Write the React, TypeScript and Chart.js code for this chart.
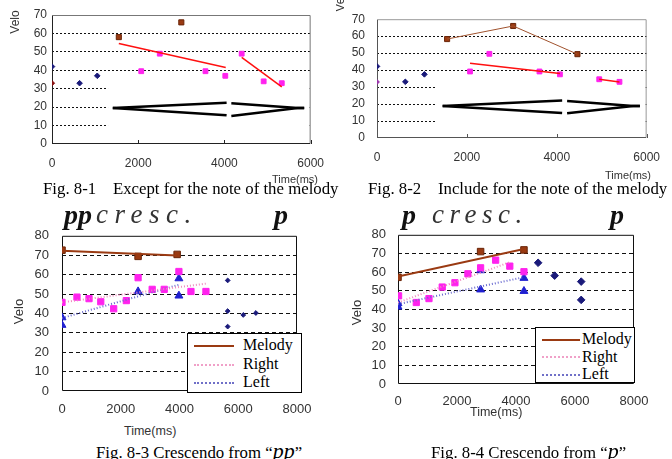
import React, { useEffect, useRef } from "react";
import { Chart, registerables } from "chart.js";
Chart.register(...registerables);

// ---------- tick labels ----------
const timeTicksTop = [0, 2000, 4000, 6000];
const veloTicksTop = [0, 10, 20, 30, 40, 50, 60, 70];
const timeTicksBottom = [0, 2000, 4000, 6000, 8000];
const veloTicksBottom = [0, 10, 20, 30, 40, 50, 60, 70, 80];

// ---------- Fig. 8-1 ----------
const fig1MelodyTime = [1550, 3000];
const fig1MelodyVelo = [58, 66];
const fig1StartTime = [0];
const fig1StartVelo = [33];
const fig1LeftTime = [0, 640, 1050];
const fig1LeftVelo = [42, 33, 37];
const fig1RightTime = [2070, 2500, 3560, 4020, 4400, 4910, 5330];
const fig1RightVelo = [39.5, 49, 39.5, 37, 49, 34, 33];
const fig1TrendATime = [1550, 4030];
const fig1TrendAVelo = [54.5, 41.5];
const fig1TrendBTime = [4400, 5330];
const fig1TrendBVelo = [47, 31];
const fig1CrescTime = [1410, 4050];
const fig1CrescUpper = [19.5, 22.4];
const fig1CrescLower = [19.5, 15.6];
const fig1DecrescTime = [4160, 5700, 5850];
const fig1DecrescUpper = [22.1, 19.5, 19.5];
const fig1DecrescLower = [15.2, 19.5, 19.5];

// ---------- Fig. 8-2 ----------
const fig2MelodyTime = [1560, 3030, 4460];
const fig2MelodyVelo = [58.3, 66, 49.4];
const fig2StartTime = [0];
const fig2StartVelo = [33];
const fig2LeftTime = [0, 630, 1055];
const fig2LeftVelo = [42.2, 33.1, 37.5];
const fig2RightTime = [2070, 2500, 3615, 4070, 4945, 5395];
const fig2RightVelo = [39.2, 49.6, 39.2, 37.5, 34.6, 33.1];
const fig2TrendATime = [2070, 4070];
const fig2TrendAVelo = [44, 38];
const fig2TrendBTime = [4945, 5395];
const fig2TrendBVelo = [34.6, 33];
const fig2CrescTime = [1460, 4120];
const fig2CrescUpper = [18.9, 22.1];
const fig2CrescLower = [18.9, 14.8];
const fig2DecrescTime = [4230, 5700, 5850];
const fig2DecrescUpper = [21.8, 18.9, 18.9];
const fig2DecrescLower = [14.6, 18.9, 18.9];

// ---------- Fig. 8-3 ----------
const fig3MelodyTime = [0, 2590, 3920];
const fig3MelodyVelo = [72.6, 69.4, 70.4];
const fig3MelodyTrendTime = [0, 3920];
const fig3MelodyTrendVelo = [72.3, 69.9];
const fig3RightTime = [0, 510, 920, 1320, 1760, 2190, 2590, 3070, 3480, 3980, 4390, 4900];
const fig3RightVelo = [45.7, 48.4, 47.6, 46, 42.4, 46.6, 58.4, 52.4, 52.4, 61.6, 51.3, 51.3];
const fig3RightTrendTime = [0, 4920];
const fig3RightTrendVelo = [45.7, 55.4];
const fig3LeftTime = [0, 0, 2590, 3980, 3980];
const fig3LeftVelo = [37.9, 34, 51.3, 58, 49.1];
const fig3LeftTrendTime = [0, 4010];
const fig3LeftTrendVelo = [37.6, 54.9];
const fig3OtherTime = [5640, 5640, 5640, 6170, 6600];
const fig3OtherVelo = [57, 41.2, 33.2, 39.2, 40.2];

// ---------- Fig. 8-4 ----------
const fig4MelodyTime = [0, 2800, 4270];
const fig4MelodyVelo = [57.2, 71, 71.9];
const fig4MelodyTrendTime = [0, 4270];
const fig4MelodyTrendVelo = [57.6, 72.4];
const fig4RightTime = [20, 620, 1050, 1500, 1930, 2370, 2800, 3310, 3790, 4270];
const fig4RightVelo = [47.3, 43.7, 45.8, 52, 54.3, 59.1, 62.3, 66.4, 63.2, 60.2];
const fig4RightTrendTime = [0, 3790];
const fig4RightTrendVelo = [43.7, 65.3];
const fig4LeftTime = [0, 0, 2800, 2800, 4270, 4270];
const fig4LeftVelo = [43.2, 41.4, 60.9, 50.6, 56.8, 49.8];
const fig4LeftTrendTime = [0, 4270];
const fig4LeftTrendVelo = [42.8, 57.3];
const fig4OtherTime = [4750, 5310, 6210, 6210];
const fig4OtherVelo = [65, 58.1, 54.9, 45.1];

const legendLabels = ["Melody", "Right", "Left"];

const pts = (xs: number[], ys: number[]) => xs.map((x, i) => ({ x, y: ys[i] }));

const SANS = "'Liberation Sans', Arial, sans-serif";
const SERIF = "'Liberation Serif', 'Times New Roman', serif";

const BROWN = "#9a3a12";
const BROWN_EDGE = "#6a2508";
const MAGENTA = "#ff22ee";
const NAVY = "#1a1a7a";
const BLUE = "#2020d0";

function scatter(data: any[], color: string, style: string, r: number, edge?: string) {
  return {
    data,
    showLine: false,
    pointStyle: style,
    pointRadius: r,
    pointBackgroundColor: color,
    pointBorderColor: edge || color,
    pointBorderWidth: 1,
  };
}
function line(data: any[], color: string, width: number, dash?: number[]) {
  return {
    data,
    showLine: true,
    pointRadius: 0,
    borderColor: color,
    borderWidth: width,
    borderDash: dash || [],
    fill: false,
    tension: 0,
  };
}

const framePlugin = {
  id: "frame",
  beforeDatasetsDraw(chart: any, _args: any, opts: any) {
    const { ctx, chartArea } = chart;
    const { left, right, top, bottom } = chartArea;
    const xs = chart.scales.x;
    const ys = chart.scales.y;
    ctx.save();
    if (opts.maskFrom != null) {
      ctx.fillStyle = "#fff";
      const mx = xs.getPixelForValue(opts.maskFrom);
      const my = ys.getPixelForValue(opts.maskTop);
      ctx.fillRect(mx, my, right - mx - 1, bottom - my - 1);
    }
    ctx.lineWidth = 1;
    ctx.strokeStyle = opts.sideColor;
    ctx.beginPath();
    ctx.moveTo(left + 0.5, top + 0.5);
    ctx.lineTo(right - 0.5, top + 0.5);
    ctx.lineTo(right - 0.5, bottom - 0.5);
    ctx.stroke();
    ctx.strokeStyle = opts.axisColor;
    ctx.beginPath();
    ctx.moveTo(left + 0.5, top + 0.5);
    ctx.lineTo(left + 0.5, bottom - 0.5);
    ctx.lineTo(right - 0.5, bottom - 0.5);
    ctx.stroke();
    if (opts.innerTicks) {
      ctx.beginPath();
      xs.ticks.forEach((t: any) => {
        const px = Math.round(xs.getPixelForValue(t.value)) + 0.5;
        ctx.moveTo(px, bottom);
        ctx.lineTo(px, bottom - 4);
      });
      ctx.stroke();
    }
    ctx.restore();
  },
};

type Spec = {
  datasets: any[];
  xTicks: number[];
  yTicks: number[];
  yWidth: number;
  xHeight: number;
  padding: { top: number; right: number; left: number; bottom: number };
  yPad: number;
  xPad: number;
  fontSize: number;
  dash: number[];
  sideColor: string;
  axisColor: string;
  innerTicks: boolean;
  maskFrom?: number;
  maskTop?: number;
};

function ChartBox({ spec, left, top, width, height }: { spec: Spec; left: number; top: number; width: number; height: number }) {
  const ref = useRef<HTMLCanvasElement>(null);
  useEffect(() => {
    if (!ref.current) return;
    const font = { family: SANS, size: spec.fontSize };
    const xMax = spec.xTicks[spec.xTicks.length - 1];
    const yMax = spec.yTicks[spec.yTicks.length - 1];
    const chart = new Chart(ref.current, {
      type: "scatter",
      data: { datasets: spec.datasets },
      plugins: [framePlugin],
      options: {
        responsive: false,
        animation: false,
        events: [],
        layout: { padding: spec.padding },
        plugins: {
          legend: { display: false },
          tooltip: { enabled: false },
          frame: {
            sideColor: spec.sideColor,
            axisColor: spec.axisColor,
            innerTicks: spec.innerTicks,
            maskFrom: spec.maskFrom,
            maskTop: spec.maskTop,
          },
        } as any,
        scales: {
          x: {
            type: "linear",
            min: 0,
            max: xMax,
            afterBuildTicks: (s: any) => {
              s.ticks = spec.xTicks.map((v) => ({ value: v }));
            },
            ticks: {
              autoSkip: false,
              padding: spec.xPad,
              color: "#333",
              font,
              maxRotation: 0,
              callback: (v: any) => String(v),
            },
            grid: { display: false, drawTicks: false },
            border: { display: false },
            afterFit: (s: any) => {
              s.height = spec.xHeight;
            },
          },
          y: {
            min: 0,
            max: yMax,
            afterBuildTicks: (s: any) => {
              s.ticks = spec.yTicks.map((v) => ({ value: v }));
            },
            ticks: {
              autoSkip: false,
              padding: spec.yPad,
              color: "#333",
              font,
              callback: (v: any) => String(v),
            },
            grid: {
              drawTicks: false,
              lineWidth: 1,
              color: (c: any) =>
                c.tick && (c.tick.value === 0 || c.tick.value === yMax) ? "rgba(0,0,0,0)" : "#111",
            },
            border: { display: false, dash: spec.dash },
            afterFit: (s: any) => {
              s.width = spec.yWidth;
            },
          },
        },
      } as any,
    });
    return () => chart.destroy();
  }, []);
  return (
    <canvas
      ref={ref}
      width={width}
      height={height}
      style={{ position: "absolute", left, top, width, height }}
    />
  );
}

function T({ x, y, children, style }: { x: number; y: number; children: any; style?: any }) {
  return (
    <div style={{ position: "absolute", left: x, top: y, whiteSpace: "pre", lineHeight: 1, ...style }}>
      {children}
    </div>
  );
}

function VLabel({ cx, cy, text, size }: { cx: number; cy: number; text: string; size: number }) {
  return (
    <div
      style={{
        position: "absolute",
        left: cx - size * 1.5,
        top: cy - size / 2,
        width: size * 3,
        textAlign: "center",
        fontFamily: SANS,
        fontSize: size,
        lineHeight: 1,
        color: "#333",
        transform: "rotate(-90deg)",
      }}
    >
      {text}
    </div>
  );
}

function Legend({ x, y, w, h, size, rowGap, sampleW, textX }: any) {
  const samples = [
    { borderTop: `2px solid ${BROWN}` },
    { borderTop: `2px dotted #f0a0c8` },
    { borderTop: `2px dotted #7070c8` },
  ];
  return (
    <div
      style={{
        position: "absolute",
        left: x,
        top: y,
        width: w,
        height: h,
        border: "1px solid #000",
        background: "#fff",
        boxSizing: "border-box",
      }}
    >
      {legendLabels.map((lab, i) => (
        <div key={lab} style={{ position: "absolute", left: 0, top: 2 + i * rowGap, height: rowGap, width: w }}>
          <div style={{ position: "absolute", left: 6, top: rowGap / 2, width: sampleW, ...samples[i] }} />
          <div
            style={{
              position: "absolute",
              left: textX,
              top: 0,
              fontFamily: SERIF,
              fontSize: size,
              lineHeight: `${rowGap}px`,
              color: "#000",
            }}
          >
            {lab}
          </div>
        </div>
      ))}
    </div>
  );
}

const hairpin = (xs: number[], ys: number[]) => line(pts(xs, ys), "#000", 2.5);

const spec1: Spec = {
  datasets: [
    hairpin(fig1CrescTime, fig1CrescUpper),
    hairpin(fig1CrescTime, fig1CrescLower),
    hairpin(fig1DecrescTime, fig1DecrescUpper),
    hairpin(fig1DecrescTime, fig1DecrescLower),
    line(pts(fig1TrendATime, fig1TrendAVelo), "#ff1010", 1.5),
    line(pts(fig1TrendBTime, fig1TrendBVelo), "#ff1010", 1.5),
    scatter(pts(fig1MelodyTime, fig1MelodyVelo), BROWN, "rect", 3.6, BROWN_EDGE),
    scatter(pts(fig1RightTime, fig1RightVelo), MAGENTA, "rect", 3.4),
    scatter(pts(fig1LeftTime, fig1LeftVelo), NAVY, "rectRot", 2.8),
    scatter(pts(fig1StartTime, fig1StartVelo), "#8a1010", "rectRot", 2.6),
  ],
  xTicks: timeTicksTop,
  yTicks: veloTicksTop,
  yWidth: 52,
  xHeight: 41,
  padding: { top: 15, right: 19, left: 0, bottom: 0 },
  yPad: 5,
  xPad: 12,
  fontSize: 12,
  dash: [2, 2],
  sideColor: "#777",
  axisColor: "#222",
  innerTicks: true,
  maskFrom: 1300,
  maskTop: 31,
};

const spec2: Spec = {
  datasets: [
    hairpin(fig2CrescTime, fig2CrescUpper),
    hairpin(fig2CrescTime, fig2CrescLower),
    hairpin(fig2DecrescTime, fig2DecrescUpper),
    hairpin(fig2DecrescTime, fig2DecrescLower),
    line(pts(fig2MelodyTime, fig2MelodyVelo), "#a0522d", 1),
    line(pts(fig2TrendATime, fig2TrendAVelo), "#ff1010", 1.5),
    line(pts(fig2TrendBTime, fig2TrendBVelo), "#ff1010", 1.5),
    scatter(pts(fig2MelodyTime, fig2MelodyVelo), BROWN, "rect", 3.6, BROWN_EDGE),
    scatter(pts(fig2RightTime, fig2RightVelo), MAGENTA, "rect", 3.4),
    scatter(pts(fig2LeftTime, fig2LeftVelo), NAVY, "rectRot", 2.8),
    scatter(pts(fig2StartTime, fig2StartVelo), "#9933aa", "rectRot", 2.4),
  ],
  xTicks: timeTicksTop,
  yTicks: veloTicksTop,
  yWidth: 41,
  xHeight: 47,
  padding: { top: 15, right: 21, left: 0, bottom: 0 },
  yPad: 12,
  xPad: 12,
  fontSize: 12,
  dash: [2, 2],
  sideColor: "#999",
  axisColor: "#555",
  innerTicks: true,
  maskFrom: 1300,
  maskTop: 31,
};

const spec3: Spec = {
  datasets: [
    line(pts(fig3MelodyTrendTime, fig3MelodyTrendVelo), BROWN, 2),
    line(pts(fig3RightTrendTime, fig3RightTrendVelo), "#f08cc0", 2, [1, 2]),
    line(pts(fig3LeftTrendTime, fig3LeftTrendVelo), "#6a6ad0", 2, [1, 2]),
    scatter(pts(fig3MelodyTime, fig3MelodyVelo), BROWN, "rect", 4.6, BROWN_EDGE),
    scatter(pts(fig3RightTime, fig3RightVelo), MAGENTA, "rect", 4.4),
    scatter(pts(fig3LeftTime, fig3LeftVelo), BLUE, "triangle", 4.6),
    scatter(pts(fig3OtherTime, fig3OtherVelo), NAVY, "rectRot", 2.4),
  ],
  xTicks: timeTicksBottom,
  yTicks: veloTicksBottom,
  yWidth: 62,
  xHeight: 24,
  padding: { top: 16, right: 39, left: 0, bottom: 0 },
  yPad: 13,
  xPad: 11,
  fontSize: 13,
  dash: [4, 3],
  sideColor: "#111",
  axisColor: "#111",
  innerTicks: false,
};

const spec4: Spec = {
  datasets: [
    line(pts(fig4MelodyTrendTime, fig4MelodyTrendVelo), BROWN, 2),
    line(pts(fig4RightTrendTime, fig4RightTrendVelo), "#f08cc0", 2, [1, 2]),
    line(pts(fig4LeftTrendTime, fig4LeftTrendVelo), "#6a6ad0", 2, [1, 2]),
    scatter(pts(fig4MelodyTime, fig4MelodyVelo), BROWN, "rect", 4.6, BROWN_EDGE),
    scatter(pts(fig4RightTime, fig4RightVelo), MAGENTA, "rect", 4.4),
    scatter(pts(fig4LeftTime, fig4LeftVelo), BLUE, "triangle", 4.6),
    scatter(pts(fig4OtherTime, fig4OtherVelo), NAVY, "rectRot", 3.8),
  ],
  xTicks: timeTicksBottom,
  yTicks: veloTicksBottom,
  yWidth: 62,
  xHeight: 31,
  padding: { top: 18, right: 38, left: 0, bottom: 0 },
  yPad: 12,
  xPad: 10,
  fontSize: 13,
  dash: [4, 3],
  sideColor: "#111",
  axisColor: "#111",
  innerTicks: false,
};

const capStyle = { fontFamily: SERIF, fontSize: 16.8, color: "#000" };
const dynBold = { fontFamily: SERIF, fontStyle: "italic", fontWeight: "bold", fontSize: 28, color: "#111" };
const dynCresc = { fontFamily: SERIF, fontStyle: "italic", fontSize: 27, color: "#333" };
const timeStyle = { fontFamily: SANS, color: "#333" };

export default function App() {
  return (
    <div
      style={{
        position: "fixed",
        left: 0,
        top: 0,
        width: 672,
        height: 459,
        background: "#fff",
        overflow: "hidden",
      }}
    >
      <ChartBox spec={spec1} left={0} top={0} width={336} height={185} />
      <ChartBox spec={spec2} left={336} top={0} width={336} height={185} />
      <ChartBox spec={spec3} left={0} top={215} width={336} height={200} />
      <ChartBox spec={spec4} left={336} top={215} width={336} height={200} />

      <VLabel cx={15} cy={22} text="Velo" size={12} />
      <div style={{ position: "absolute", left: 336, top: 0, width: 10, height: 13, overflow: "hidden" }}>
        <VLabel cx={4} cy={0} text="Velo" size={12} />
      </div>
      <VLabel cx={18} cy={311} text="Velo" size={13} />
      <VLabel cx={356} cy={312} text="Velo" size={13} />

      <T x={272} y={174} style={{ ...timeStyle, fontSize: 11 }}>Time(ms)</T>
      <T x={605} y={170} style={{ ...timeStyle, fontSize: 11 }}>Time(ms)</T>
      <T x={124} y={425} style={{ ...timeStyle, fontSize: 12.5 }}>Time(ms)</T>
      <T x={470} y={406} style={{ ...timeStyle, fontSize: 12.5 }}>Time(ms)</T>

      <T x={43} y={181} style={capStyle}>{"Fig. 8-1    Except for the note of the melody"}</T>
      <T x={368} y={181} style={capStyle}>{"Fig. 8-2    Include for the note of the melody"}</T>
      <T x={96} y={440} style={capStyle}>
        {"Fig. 8-3 Crescendo from \u201c"}
        <span style={{ fontStyle: "italic", fontSize: 22 }}>pp</span>
        {"\u201d"}
      </T>
      <T x={431} y={440} style={capStyle}>
        {"Fig. 8-4 Crescendo from \u201c"}
        <span style={{ fontStyle: "italic", fontSize: 22 }}>p</span>
        {"\u201d"}
      </T>

      <T x={64} y={201} style={dynBold}>pp</T>
      <T x={96} y={201} style={{ ...dynCresc, letterSpacing: 6.5 }}>cresc.</T>
      <T x={274} y={201} style={dynBold}>p</T>
      <T x={402} y={201} style={dynBold}>p</T>
      <T x={432} y={201} style={{ ...dynCresc, letterSpacing: 5.5 }}>cresc.</T>
      <T x={610} y={201} style={dynBold}>p</T>

      <Legend x={187} y={333} w={115} h={60} size={16} rowGap={18.5} sampleW={40} textX={55} />
      <Legend x={535} y={327} w={100} h={56} size={16} rowGap={17.5} sampleW={38} textX={46} />
    </div>
  );
}
